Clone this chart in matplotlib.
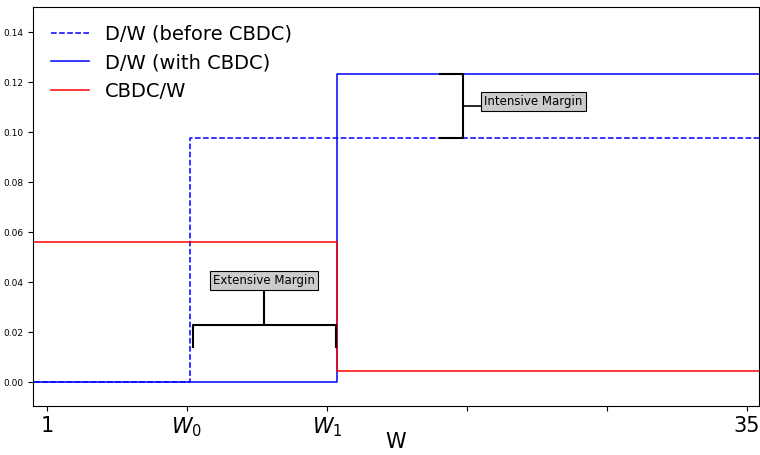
import numpy as np
import matplotlib
matplotlib.use("Agg")
import matplotlib.pyplot as plt

# step data (W on x-axis)
w_before = [0, 7.95, 36]
dw_before = [0.0, 0.0975, 0.0975]
w_with = [0, 15.1, 36]
dw_with = [0.0, 0.1233, 0.1233]
cbdc_w = [0.0561, 0.0044, 0.0044]

xtick_pos = np.linspace(1, 35, 6)
xtick_labels = ["1", "$W_0$", "$W_1$", "", "", "35"]
ytick_pos = [0.00, 0.02, 0.04, 0.06, 0.08, 0.10, 0.12, 0.14]

fig, ax = plt.subplots(figsize=(7.6, 4.55), dpi=100)
fig.subplots_adjust(left=33/760, right=759/760, top=1-7/455, bottom=1-406/455)

ax.step(w_before, dw_before, where="post", color="blue", linestyle="--", lw=1.1, label="D/W (before CBDC)")
ax.step(w_with, dw_with, where="post", color="blue", lw=1.1, label="D/W (with CBDC)")
ax.step(w_with, cbdc_w, where="post", color="red", lw=1.1, label="CBDC/W")

# extensive margin bracket
x0, x1 = w_before[1] + 0.15, w_with[1] - 0.08
yb, yt = 0.0139, 0.0227
xm = (x0 + x1) / 2
ax.plot([x0, x0, x1, x1], [yb, yt, yt, yb], color="black", lw=1.5)
ax.plot([xm, xm], [yt, 0.0366], color="black", lw=1.5)
ax.text(xm, 0.0406, "Extensive Margin", ha="center", va="center", fontsize=8.5,
        bbox=dict(boxstyle="square,pad=0.25", fc="#cccccc", ec="black", lw=0.8))

# intensive margin bracket
xi = 21.2
ax.plot([20.1, xi, xi, 20.1], [dw_with[1], dw_with[1], dw_before[1], dw_before[1]], color="black", lw=1.5)
ym = (dw_with[1] + dw_before[1]) / 2
ax.plot([xi, 22.2], [ym, ym], color="black", lw=1.2)
ax.text(22.25, 0.1122, "Intensive Margin", ha="left", va="center", fontsize=8.5,
        bbox=dict(boxstyle="square,pad=0.25", fc="#cccccc", ec="black", lw=0.8))

ax.set_xlim(0.32, 35.6)
ax.set_ylim(-0.0095, 0.15)
ax.set_xticks(xtick_pos)
ax.set_xticklabels(xtick_labels, fontsize=15)
ax.set_yticks(ytick_pos)
ax.tick_params(axis="y", labelsize=6.5)
ax.set_xlabel("W", fontsize=15, labelpad=-5)
ax.legend(loc="upper left", fontsize=14, frameon=False, handlelength=2.0)

plt.savefig("out.png", dpi=100)
